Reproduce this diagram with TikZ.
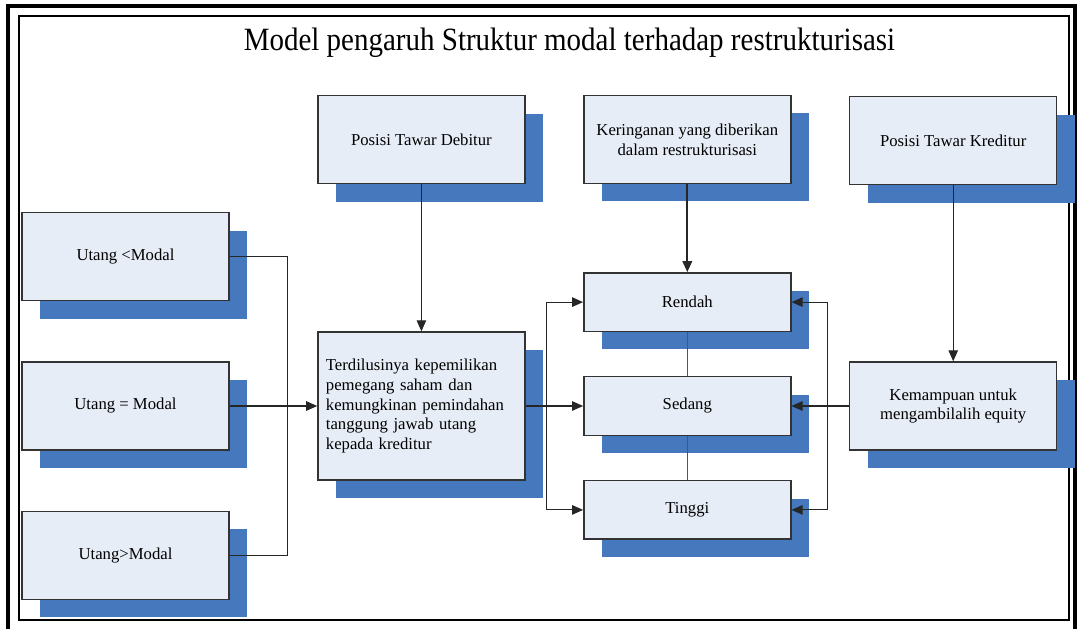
\documentclass[tikz,border=0pt]{standalone}
\usepackage{fontspec}
\setmainfont{Liberation Serif}
\usetikzlibrary{arrows.meta, positioning, calc, shadows}
\definecolor{boxfill}{HTML}{E7EDF7}
\definecolor{shadowblue}{HTML}{4678BE}
\definecolor{boxline}{HTML}{333333}
\definecolor{linkgray}{HTML}{555555}
\tikzset{
  % Factor boxes with solid blue shadow
  factor/.style={
    rectangle, minimum width=4.14cm, minimum height=1.76cm,
    draw=boxline, fill=boxfill, text=black, line width=0.8pt,
    font=\fontsize{9.5}{11.3}\selectfont, align=center, inner sep=0.16cm,
    drop shadow={shadow xshift=0.36cm, shadow yshift=-0.36cm,
      fill=shadowblue, opacity=1},
  },
  % Level boxes (Rendah / Sedang / Tinggi)
  level/.style={factor, minimum height=1.17cm},
  % Connectors
  conn/.style={draw=black!85, line width=0.6pt},
  arr/.style={-{Triangle[length=0.22cm, width=0.19cm]}, draw=black!85, line width=0.6pt, #1},
  arr/.default={},
  link/.style={draw=linkgray, line width=0.6pt},
  % Frames
  outerframe/.style={line width=2.3pt, draw=black},
  innerframe/.style={line width=1.2pt, draw=black},
}
\begin{document}
\begin{tikzpicture}
  \useasboundingbox (0,0) rectangle (21.58,-12.58);

  % Frames
  \draw[outerframe] (0.16,-12.9) -- (0.16,-0.12) -- (21.5,-0.12) -- (21.5,-12.9);
  \draw[innerframe] (0.375,-0.325) rectangle (21.38,-12.4);

  % Title
  \node (title) at (11.39,-0.86)
    {\scalebox{1}[1.12]{\fontsize{16.5}{20}\selectfont Model pengaruh Struktur modal terhadap restrukturisasi}};

  % Capital structure
  \node[factor] (us) at (2.51,-8.12) {Utang = Modal};
  \node[factor, above=1.2cm of us] (uk) {Utang <Modal};
  \node[factor, below=1.2cm of us] (ul) {Utang>Modal};

  % Dilution
  \node[factor, right=1.75cm of us, minimum height=2.96cm,
        text width=3.82cm, align=left] (dilusi) {
    Terdilusinya kepemilikan\\
    pemegang saham dan\\
    kemungkinan pemindahan\\
    tanggung jawab utang\\
    kepada kreditur
  };
  \node[factor, above=2.94cm of dilusi] (debitur) {Posisi Tawar Debitur};

  % Levels
  \node[level, right=1.15cm of dilusi] (sedang) {Sedang};
  \node[level, above=0.88cm of sedang] (rendah) {Rendah};
  \node[level, below=0.88cm of sedang] (tinggi) {Tinggi};
  \node[factor, above=1.76cm of rendah] (keringanan) {Keringanan yang diberikan\\dalam restrukturisasi};

  % Creditor side
  \node[factor, right=1.15cm of sedang] (kemampuan) {Kemampuan untuk\\mengambilalih equity};
  \node[factor, above=3.52cm of kemampuan] (kreditur) {Posisi Tawar Kreditur};

  % Junctions
  \coordinate (jl) at ([xshift=1.16cm]us.east);
  \coordinate (jr) at ([xshift=0.42cm]dilusi.east);
  \coordinate (kr) at ([xshift=-0.43cm]kemampuan.west);

  % Arrows
  \draw[conn] (uk.east) -| (jl);
  \draw[conn] (ul.east) -| (jl);
  \draw[arr] (us.east) -- (dilusi.west);
  \draw[arr] (debitur.south) -- (dilusi.north);
  \draw[arr] (dilusi.east) -- (sedang.west);
  \draw[arr] (jr) |- (rendah.west);
  \draw[arr] (jr) |- (tinggi.west);
  \draw[arr, line width=1.1pt] (keringanan.south) -- (rendah.north);
  \draw[link] (rendah.south) -- (sedang.north);
  \draw[link] (sedang.south) -- (tinggi.north);
  \draw[arr] (kreditur.south) -- (kemampuan.north);
  \draw[arr] (kemampuan.west) -- (sedang.east);
  \draw[arr] (kr) |- (rendah.east);
  \draw[arr] (kr) |- (tinggi.east);

\end{tikzpicture}
\end{document}
